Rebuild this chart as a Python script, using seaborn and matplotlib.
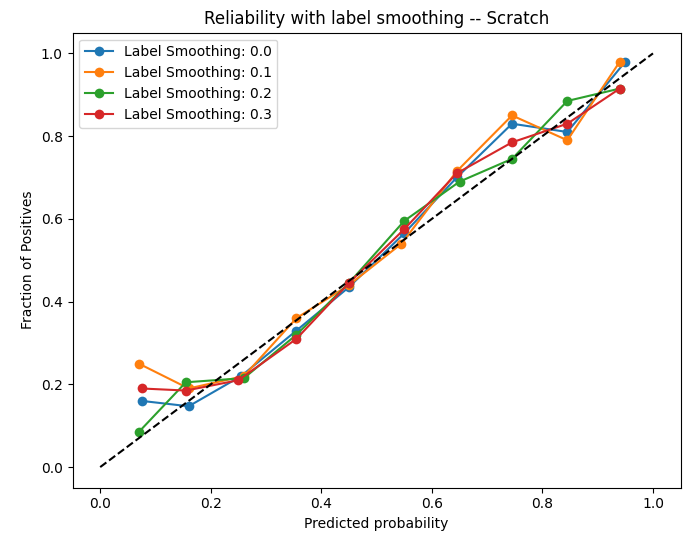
import matplotlib
matplotlib.use("Agg")
import matplotlib.pyplot as plt
import seaborn as sns
import pandas as pd

labels = ["Label Smoothing: 0.0", "Label Smoothing: 0.1", "Label Smoothing: 0.2", "Label Smoothing: 0.3"]
x00 = [0.075, 0.16, 0.255, 0.355, 0.45, 0.55, 0.645, 0.745, 0.845, 0.95]
y00 = [0.16, 0.147, 0.22, 0.33, 0.435, 0.565, 0.70, 0.83, 0.81, 0.98]
x01 = [0.07, 0.16, 0.26, 0.355, 0.45, 0.545, 0.645, 0.745, 0.845, 0.94]
y01 = [0.25, 0.19, 0.22, 0.36, 0.44, 0.54, 0.715, 0.85, 0.79, 0.98]
x02 = [0.07, 0.155, 0.26, 0.355, 0.45, 0.55, 0.65, 0.745, 0.845, 0.94]
y02 = [0.085, 0.205, 0.215, 0.32, 0.445, 0.595, 0.69, 0.745, 0.885, 0.915]
x03 = [0.075, 0.155, 0.25, 0.355, 0.45, 0.55, 0.645, 0.745, 0.845, 0.94]
y03 = [0.19, 0.185, 0.21, 0.31, 0.445, 0.575, 0.71, 0.785, 0.83, 0.915]

fig, ax = plt.subplots(figsize=(6.91, 5.45), dpi=100)
colors = sns.color_palette("tab10")
for i, (lab, xs, ys) in enumerate(zip(labels, [x00, x01, x02, x03], [y00, y01, y02, y03])):
    df = pd.DataFrame({"x": xs, "y": ys})
    sns.lineplot(data=df, x="x", y="y", marker="o", markeredgewidth=0, markersize=7,
                 sort=False, color=colors[i], label=lab, ax=ax)
ax.plot([0, 1], [0, 1], "k--")
ax.set_xlabel("Predicted probability")
ax.set_ylabel("Fraction of Positives")
ax.set_title("Reliability with label smoothing -- Scratch")
ax.legend(loc="upper left")
fig.subplots_adjust(left=0.105, right=0.985, bottom=0.105, top=0.94)
fig.savefig("out.png", dpi=100)
